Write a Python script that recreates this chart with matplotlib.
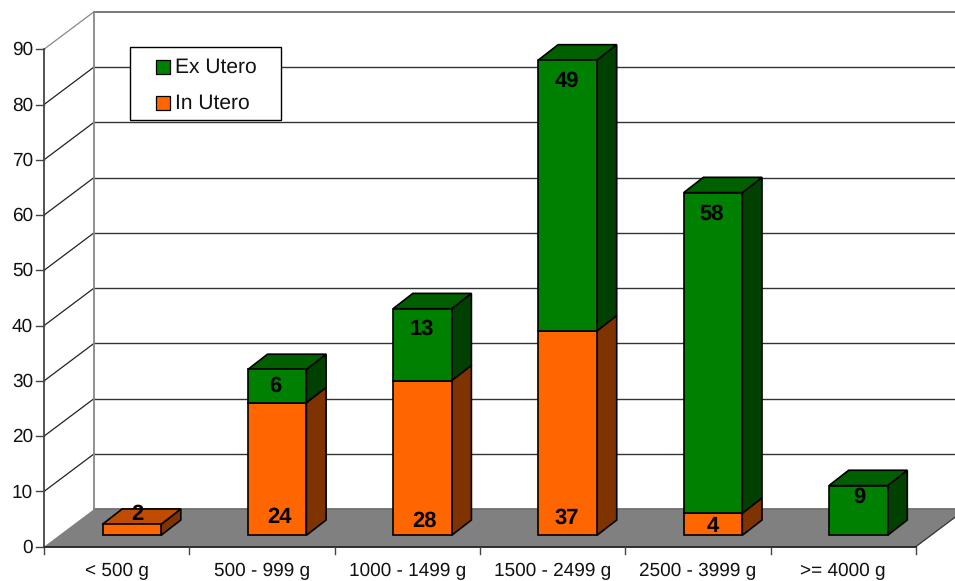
import matplotlib
matplotlib.use("Agg")
import matplotlib.pyplot as plt
from matplotlib.patches import Polygon, Rectangle

plt.rcParams["font.family"] = ["Liberation Sans", "DejaVu Sans"]
plt.rcParams["text.hinting"] = "no_hinting"
plt.rcParams["text.hinting_factor"] = 1

categories = ["< 500 g", "500 - 999 g", "1000 - 1499 g", "1500 - 2499 g", "2500 - 3999 g", ">= 4000 g"]
in_utero = [2, 24, 28, 37, 4, 0]
ex_utero = [0, 6, 13, 49, 58, 9]
y_ticks = [0, 10, 20, 30, 40, 50, 60, 70, 80, 90]

W, H = 955, 581
CAT_PX = 145.3
UNIT_PX = 5.527
X0_PX, Y0_PX = 44.0, 546.7

# offsets of the box, all in data units
WALL_DX, WALL_DY = 50 / CAT_PX, 37.5 / UNIT_PX
BAR_DX, BAR_DY = 19.7 / CAT_PX, 15.3 / UNIT_PX
BAR_LEFT, BAR_W = 58.5 / CAT_PX, 58.6 / CAT_PX
BAR_BASE = 11.4 / UNIT_PX

GREEN = ("#008000", "#006000", "#004000")
ORANGE = ("#ff6600", "#bf4c00", "#7f3300")

fig = plt.figure(figsize=(W / 100, H / 100), dpi=100)
ax = fig.add_axes([0, 0, 1, 1])
ax.set_xlim(-X0_PX / CAT_PX, (W - X0_PX) / CAT_PX)
ax.set_ylim((Y0_PX - H) / UNIT_PX, Y0_PX / UNIT_PX)
ax.axis("off")

n = len(categories)

# floor
ax.add_patch(Polygon([(0, 0), (n, 0), (n + WALL_DX, WALL_DY), (WALL_DX, WALL_DY)],
                     facecolor="#808080", edgecolor="none", zorder=1))

# gridlines on the side wall and back wall
for v in y_ticks:
    c = "#888888" if v in (0, 90) else "#222222"
    lw = 1.3 if v in (0, 90) else 1.0
    if v > 0:
        ax.plot([0, WALL_DX], [v, v + WALL_DY], color=c, lw=0.9, zorder=2)
    ax.plot([WALL_DX, n + WALL_DX], [v + WALL_DY, v + WALL_DY],
            color="#6e6e6e" if v in (0, 90) else "#333333", lw=lw, zorder=2)
ax.plot([WALL_DX, WALL_DX], [WALL_DY, 90 + WALL_DY], color="#888888", lw=1.3, zorder=2)
ax.plot([n, n + WALL_DX], [0, WALL_DY], color="#333333", lw=0.9, zorder=2)

# axes and ticks
ax.plot([0, 0], [0, 90], color="#444444", lw=1.3, zorder=3)
ax.plot([0, n], [0, 0], color="#222222", lw=1.3, zorder=3)
for v in y_ticks:
    ax.plot([-8 / CAT_PX, 0], [v, v], color="#444444", lw=1.0, zorder=3)
    ax.text(-11 / CAT_PX, v - 1 / UNIT_PX, str(v), ha="right", va="center", fontsize=13.5, color="#111111")
for i in range(n + 1):
    ax.plot([i, i], [0, -7.5 / UNIT_PX], color="#444444", lw=1.0, zorder=3)
for i, name in enumerate(categories):
    ax.text(i + 0.5, -24.5 / UNIT_PX, name, ha="center", va="center", fontsize=13.5, color="#111111")


def draw_block(x, bottom, height, colors, with_top, z):
    top = bottom + height
    right = x + BAR_W
    ax.add_patch(Polygon([(right, bottom), (right + BAR_DX, bottom + BAR_DY),
                          (right + BAR_DX, top + BAR_DY), (right, top)],
                         facecolor=colors[2], edgecolor="black", lw=1.2, zorder=z))
    if with_top:
        ax.add_patch(Polygon([(x, top), (right, top), (right + BAR_DX, top + BAR_DY),
                              (x + BAR_DX, top + BAR_DY)],
                             facecolor=colors[1], edgecolor="black", lw=1.2, zorder=z))
    ax.add_patch(Rectangle((x, bottom), BAR_W, height, facecolor=colors[0],
                           edgecolor="black", lw=1.2, zorder=z + 0.1))


# label distances in pixels: in utero above the bar base, ex utero below the bar top
in_label_px = [21, 18, 14, 17, 9, 0]
ex_label_px = [0, 16, 19, 20, 20, 11]
in_shift_px = [6, 2, 2, -1, 0, 0]
ex_shift_px = [0, -2, -1, -1, -1, 1]

for i in range(n):
    x = i + BAR_LEFT
    z = 5 + i
    cx = x + BAR_W / 2
    if in_utero[i] > 0:
        draw_block(x, BAR_BASE, in_utero[i], ORANGE, ex_utero[i] == 0, z)
    if ex_utero[i] > 0:
        draw_block(x, BAR_BASE + in_utero[i], ex_utero[i], GREEN, True, z + 0.2)
    if in_utero[i] > 0:
        ax.text(cx + in_shift_px[i] / CAT_PX, BAR_BASE + in_label_px[i] / UNIT_PX, str(in_utero[i]),
                ha="center", va="center", fontsize=15.5, fontweight="bold", color="black", zorder=20)
    if ex_utero[i] > 0:
        ax.text(cx + ex_shift_px[i] / CAT_PX, BAR_BASE + in_utero[i] + ex_utero[i] - (ex_label_px[i] + 1) / UNIT_PX,
                str(ex_utero[i]), ha="center", va="center", fontsize=15.5, fontweight="bold", color="black", zorder=20)


# legend box, placed by axes-fraction coordinates
def fx(px):
    return px / W


def fy(px):
    return 1 - px / H


ax.add_patch(Rectangle((fx(130), fy(119.5)), 151 / W, 72.5 / H, transform=ax.transAxes,
                       facecolor="white", edgecolor="black", lw=1.0, zorder=30))
for label, color, ypx in [("Ex Utero", GREEN[0], 66.5), ("In Utero", ORANGE[0], 102.5)]:
    ax.add_patch(Rectangle((fx(156), fy(ypx + 7)), 14 / W, 14 / H, transform=ax.transAxes,
                           facecolor=color, edgecolor="black", lw=0.9, zorder=31))
    ax.text(fx(175), fy(ypx + 1), label, transform=ax.transAxes, ha="left", va="center",
            fontsize=15.3, color="#111111", zorder=31)

fig.savefig("out.png", dpi=100)
